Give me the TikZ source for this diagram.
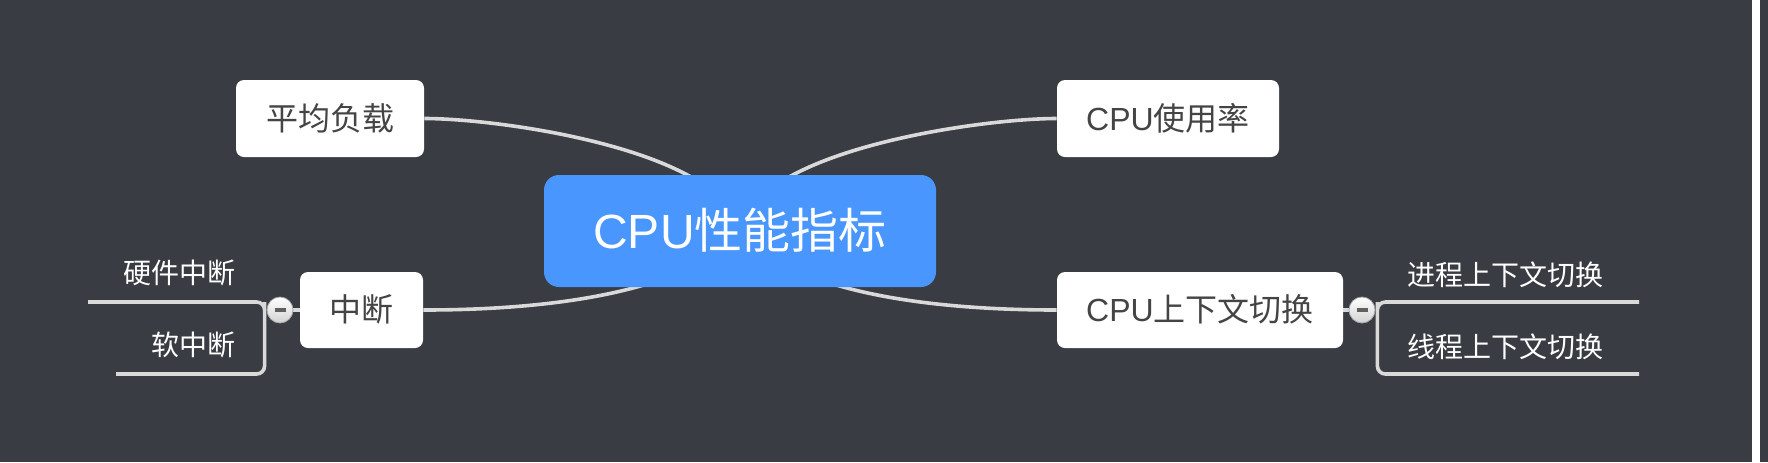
\documentclass[tikz,border=0pt]{standalone}
\usepackage{fontspec}
\setmainfont{Noto Sans CJK SC}
\newfontfamily\latin{Liberation Sans}
\usepackage{tikz}
\usetikzlibrary{positioning, arrows.meta, shadings}
\tikzset{>=stealth}
\definecolor{mapbg}{HTML}{393C42}
\definecolor{mapblue}{HTML}{4A96FF}
\definecolor{mapline}{HTML}{D9D9D9}
\definecolor{maptext}{HTML}{444444}
\newcommand\setfs[1]{\fontsize{#1}{#1}\selectfont}
\pgfdeclarelayer{back}
\pgfsetlayers{back,main}
\tikzset{
  rootbox/.style={fill=mapblue, text=white, rounded corners=7.5pt, inner sep=0pt,
    minimum width=196pt, minimum height=56pt, font=\setfs{24pt},
    text height=19.2pt, text depth=1.4pt},
  topicbox/.style={fill=white, text=maptext, rounded corners=4pt, inner sep=0pt,
    minimum height=38.5pt, font=\setfs{16pt}, text height=12.8pt, text depth=1pt},
  leaftext/.style={text=white, inner sep=0pt, font=\setfs{14pt},
    text height=11.2pt, text depth=0.85pt},
  branch/.style={draw=mapline, line width=1.8pt},
  fold/.style={circle, minimum size=13pt, inner sep=0pt, draw=gray!70, line width=0.4pt,
    top color=white, bottom color=gray!35,
    path picture={\draw[line width=1.6pt, color=maptext!85]
      ([xshift=-2.75pt]path picture bounding box.center) --
      ([xshift=2.75pt]path picture bounding box.center);}}
}
\begin{document}
\begin{tikzpicture}[x=0.5pt, y=-0.5pt]
\useasboundingbox (0,0) rectangle (1768,462);
\begin{pgfonlayer}{back}
\fill[mapbg] (0,0) rectangle (1768,462);
\fill[white] (1752,0) rectangle (1760,462);
\end{pgfonlayer}
\node[rootbox] (cpu) at (740,231) {{\latin CPU}性能指标};
\node[topicbox, minimum width=94pt] (load) at (330,118.5) {平均负载};
\node[topicbox, minimum width=111pt] (usage) at (1168,118.5) {{\latin CPU}使用率};
\node[topicbox, minimum width=61.5pt, minimum height=38pt] (intr) at (361.5,310) {中断};
\node[topicbox, minimum width=143pt, minimum height=38pt] (ctx) at (1200,310) {{\latin CPU}上下文切换};
\node[fold] (lfold) at (280,310) {};
\node[fold] (rfold) at (1362,310) {};
\node[leaftext, anchor=east] (hwintr) at (236,273) {硬件中断};
\node[leaftext, anchor=east] (swintr) at (236,345) {软中断};
\node[leaftext, anchor=west] (procsw) at (1407,275) {进程上下文切换};
\node[leaftext, anchor=west] (thrsw) at (1407,347) {线程上下文切换};
\coordinate (hwend) at (88,302);
\coordinate (swend) at (116,374);
\coordinate (procend) at (1639,302);
\coordinate (thrend) at (1639,374);
\begin{pgfonlayer}{back}
\draw[branch] (load.east) .. controls +(76,0) and +(-15,-81) .. (cpu.center);
\draw[branch] (intr.east) .. controls +(136,0) and +(-50,59) .. (cpu.center);
\draw[branch] (usage.west) .. controls +(-76,0) and +(15,-81) .. (cpu.center);
\draw[branch] (ctx.west) .. controls +(-136,0) and +(50,59) .. (cpu.center);
\draw[branch] (intr.west) -- (lfold.center);
\draw[branch] (ctx.east) -- (rfold.center);
\draw[branch, rounded corners=4pt] (hwend) -| ([xshift=-1pt]lfold.west) |- (swend);
\draw[branch, rounded corners=4pt] (procend) -| ([xshift=1pt]rfold.east) |- (thrend);
\end{pgfonlayer}
\end{tikzpicture}
\end{document}
